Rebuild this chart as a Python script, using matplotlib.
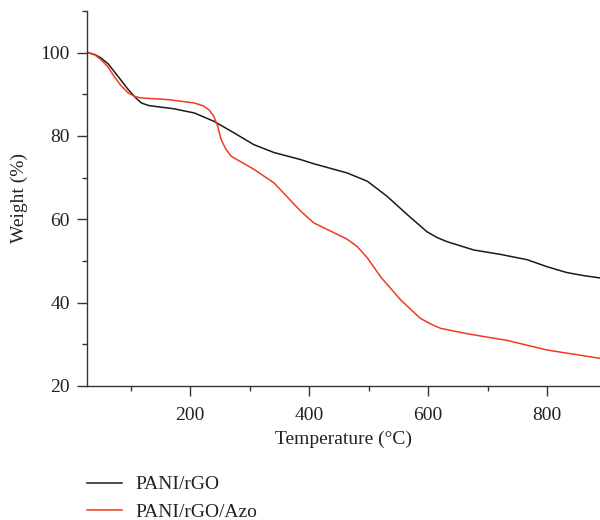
from matplotlib import pyplot as plt
from matplotlib.ticker import MultipleLocator

# Black curve, PANI/rGO
rgo_temp = [28, 40, 50, 62, 72, 84, 96, 108, 118, 130, 140, 173, 207, 240, 274, 307, 341, 386, 408,
            464, 498, 531, 565, 598, 615, 632, 677, 720, 766, 800, 833, 860, 889]
rgo_weight = [100, 99.5, 98.7, 97.3, 95.5, 93.3, 91.1, 89.2, 87.9, 87.3, 87.1, 86.5, 85.5, 83.5, 80.7, 77.9, 76.0, 74.3, 73.3,
              71.1, 69.1, 65.5, 61.1, 57.0, 55.6, 54.6, 52.6, 51.6, 50.3, 48.6, 47.2, 46.5, 45.9]

# Red curve, PANI/rGO/Azo
azo_temp = [28, 40, 50, 62, 72, 84, 96, 108, 118, 163, 207, 222, 232, 240, 246, 252, 260, 269, 308, 341, 386, 408,
            441, 464, 481, 498, 520, 554, 587, 605, 621, 666, 733, 800, 889]
azo_weight = [100, 99.4, 98.3, 96.5, 94.3, 92.0, 90.3, 89.4, 89.1, 88.7, 87.9, 87.2, 86.2, 84.6, 82.4, 79.1, 76.8, 75.1, 71.9, 68.7, 61.9, 59.1,
              56.8, 55.2, 53.4, 50.7, 46.2, 40.6, 36.2, 34.8, 33.8, 32.5, 30.9, 28.6, 26.6]

labels = ['PANI/rGO', 'PANI/rGO/Azo']
colors = ['#1a1a1a', '#ee3b22']

plt.rcParams['font.family'] = ['Liberation Serif', 'DejaVu Serif']
plt.rcParams['font.size'] = 14

fig = plt.figure(figsize = (6, 5.2), dpi = 100)
ax = fig.add_axes([0.1445, 0.258, 0.8555, 0.721])

ax.plot(rgo_temp, rgo_weight, color = colors[0], linewidth = 1.1, label = labels[0])
ax.plot(azo_temp, azo_weight, color = colors[1], linewidth = 1.1, label = labels[1])

ax.set_xlim(26, 889)
ax.set_ylim(20, 110)
ax.xaxis.set_major_locator(MultipleLocator(200))
ax.xaxis.set_minor_locator(MultipleLocator(100))
ax.yaxis.set_major_locator(MultipleLocator(20))
ax.yaxis.set_minor_locator(MultipleLocator(10))
ax.tick_params(which = 'major', direction = 'out', length = 7, width = 1, color = '#333333',
               labelsize = 14, labelcolor = '#222222', pad = 5)
ax.tick_params(axis = 'x', which = 'major', pad = 8)
ax.tick_params(which = 'minor', direction = 'out', length = 3.5, width = 1, color = '#333333')

for side in ['top', 'right']:
    ax.spines[side].set_visible(False)
for side in ['left', 'bottom']:
    ax.spines[side].set_color('#333333')
    ax.spines[side].set_linewidth(1)

ax.set_xlabel('Temperature (°C)', fontsize = 14, color = '#222222', labelpad = 5)
ax.set_ylabel('Weight (%)', fontsize = 14, color = '#222222', labelpad = 9)

fig.legend(loc = 'upper left', bbox_to_anchor = (0.145, 0.085), frameon = False,
           borderpad = 0, borderaxespad = 0,
           handlelength = 1.8, handletextpad = 0.7, labelspacing = 0.5, fontsize = 14,
           labelcolor = '#222222', bbox_transform = fig.transFigure)

fig.savefig('out.png', dpi = 100)
